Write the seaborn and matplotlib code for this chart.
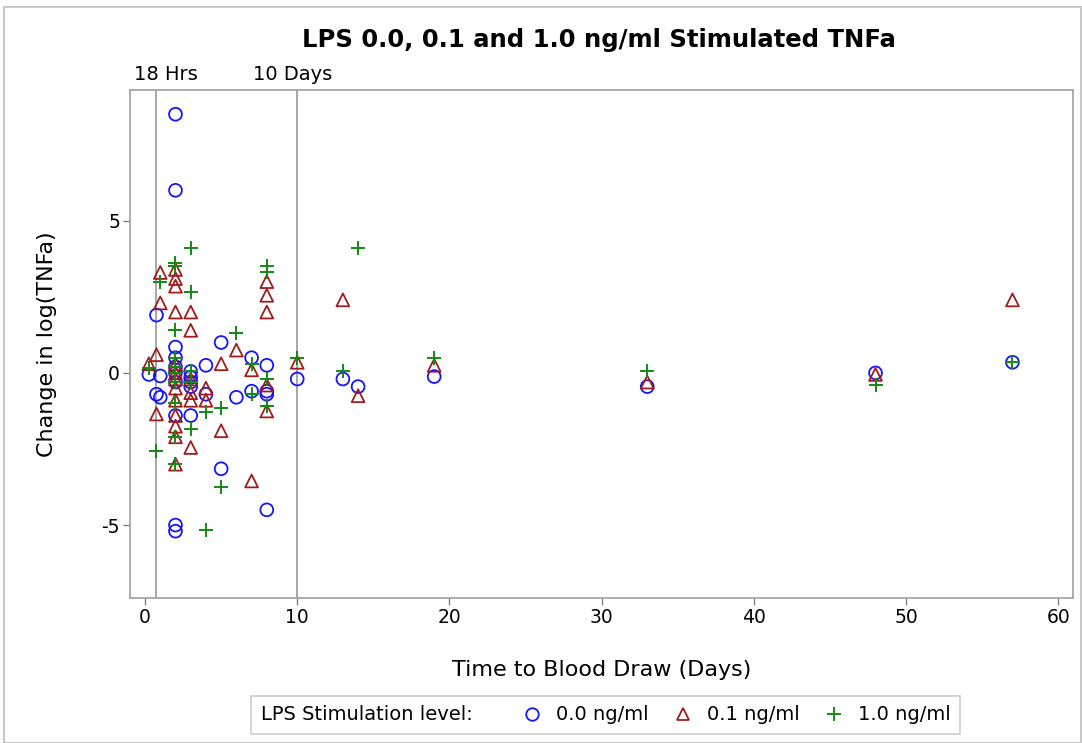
import numpy as np
import pandas as pd
import matplotlib
matplotlib.use('Agg')
import matplotlib.pyplot as plt
import seaborn as sns
from matplotlib.lines import Line2D
from matplotlib.patches import Rectangle

# 0.0 ng/ml LPS
days_00 = [0.25, 0.75, 0.75, 1, 1, 2, 2, 2, 2, 2, 2, 2, 2, 2, 2,
           3, 3, 3, 3, 3, 4, 4, 5, 5, 6, 7, 7, 8, 8, 8, 8,
           10, 13, 14, 19, 33, 48, 57]
change_00 = [-0.05, 1.9, -0.7, -0.1, -0.8, 8.5, 6.0, 0.85, 0.5, 0.2, 0.0, -0.3, -1.4, -5.0, -5.2,
             0.05, -0.15, -0.3, -0.45, -1.4, 0.25, -0.7, 1.0, -3.15, -0.8, 0.5, -0.6, 0.25, -0.6, -0.7, -4.5,
             -0.2, -0.2, -0.45, -0.12, -0.45, 0.0, 0.35]

# 0.1 ng/ml LPS
days_01 = [0.25, 0.75, 0.75, 1, 1, 2, 2, 2, 2, 2, 2, 2, 2, 2, 2, 2, 2, 2,
           3, 3, 3, 3, 3, 3, 4, 4, 5, 5, 6, 7, 7, 8, 8, 8, 8, 8,
           10, 13, 14, 19, 33, 48, 57]
change_01 = [0.3, 0.6, -1.35, 3.3, 2.3, 3.4, 3.1, 2.85, 2.0, 0.3, 0.0, -0.2, -0.5, -0.9, -1.4, -1.75, -2.1, -3.0,
             2.0, 1.4, -0.2, -0.65, -0.9, -2.45, -0.5, -0.9, 0.3, -1.9, 0.75, 0.1, -3.55, 3.0, 2.55, 2.0, -0.4, -1.25,
             0.35, 2.4, -0.75, 0.25, -0.3, -0.05, 2.4]

# 1.0 ng/ml LPS
days_10 = [0.25, 0.75, 1, 2, 2, 2, 2, 2, 2, 2, 2, 2, 2,
           3, 3, 3, 3, 3, 4, 4, 5, 5, 6, 7, 7, 8, 8, 8, 8,
           10, 13, 14, 19, 33, 48, 57]
change_10 = [0.15, -2.55, 3.0, 3.6, 3.5, 1.4, 0.5, 0.2, 0.0, -0.3, -1.0, -2.1, -3.0,
             4.1, 2.65, 0.05, -0.3, -1.85, -1.3, -5.15, -1.15, -3.75, 1.3, 0.3, -0.7, 3.5, 3.3, -0.2, -1.1,
             0.5, 0.05, 4.1, 0.5, 0.05, -0.4, 0.35]

levels = ['0.0 ng/ml', '0.1 ng/ml', '1.0 ng/ml']
markers = ['o', '^', '+']
colors = ['#1414ff', '#a01c1c', '#138a13']

ref_days = [0.75, 10]
ref_labels = ['18 Hrs', '10 Days']
ref_label_x = [1.4, 9.7]

df = pd.concat([
    pd.DataFrame({'days': days_00, 'change': change_00, 'level': levels[0]}),
    pd.DataFrame({'days': days_01, 'change': change_01, 'level': levels[1]}),
    pd.DataFrame({'days': days_10, 'change': change_10, 'level': levels[2]}),
])

sns.set_style('white')
plt.rcParams['font.family'] = ['DejaVu Sans']
plt.rcParams['axes.unicode_minus'] = False
plt.rcParams['text.color'] = 'black'
plt.rcParams['axes.labelcolor'] = 'black'

fig = plt.figure(figsize=(10.82, 7.43), dpi=100)
ax = fig.add_axes([0.120, 0.195, 0.872, 0.684])

# reference lines
for d in ref_days:
    ax.axvline(d, color='#a0a0a0', lw=1.3, zorder=1)

for lev, mk, col in zip(levels, markers, colors):
    sub = df[df['level'] == lev]
    if mk == '+':
        sns.scatterplot(data=sub, x='days', y='change', marker=mk, s=110,
                        color=col, linewidth=1.4, ax=ax, zorder=3)
    else:
        sns.scatterplot(data=sub, x='days', y='change', marker=mk, s=85,
                        facecolor='none', edgecolor=col, linewidth=1.3, ax=ax, zorder=3)

ax.set_xlim(-1, 61)
ax.set_ylim(-7.4, 9.3)
ax.set_xticks(np.arange(0, 61, 10))
ax.set_yticks([-5, 0, 5])
ax.tick_params(direction='out', length=5, width=1, color='#808080',
               labelcolor='black', labelsize=13.5, pad=2, bottom=True, left=True)
for sp in ax.spines.values():
    sp.set_color('#a0a0a0')
    sp.set_linewidth(1.2)

ax.set_xlabel('Time to Blood Draw (Days)', fontsize=16, labelpad=24)
ax.set_ylabel('Change in log(TNFa)', fontsize=16, labelpad=32)

for x, lab in zip(ref_label_x, ref_labels):
    ax.text(x, 1.012, lab, transform=ax.get_xaxis_transform(), ha='center',
            va='bottom', fontsize=14)

fig.text(0.554, 0.946, 'LPS 0.0, 0.1 and 1.0 ng/ml Stimulated TNFa',
         ha='center', va='center', fontsize=17.5, fontweight='bold')

# legend
handles = [Line2D([], [], linestyle='none', marker='')]
labels = ['LPS Stimulation level:    ']
for lev, mk, col in zip(levels, markers, colors):
    if mk == '+':
        handles.append(Line2D([], [], linestyle='none', marker=mk, markersize=10,
                              color=col, markeredgewidth=1.4))
    else:
        handles.append(Line2D([], [], linestyle='none', marker=mk, markersize=9,
                              markerfacecolor='none', markeredgecolor=col,
                              markeredgewidth=1.3))
    labels.append(lev)
leg = fig.legend(handles, labels, loc='center', bbox_to_anchor=(0.5596, 0.0377),
                 ncol=4, frameon=True, fancybox=False, edgecolor='#c0c0c0',
                 fontsize=14, handlelength=0.8, handletextpad=0.8,
                 columnspacing=1.4, borderpad=0.5)
leg.get_frame().set_linewidth(1.2)
# no empty handle space in front of the legend caption
row0 = leg._legend_handle_box.get_children()[0].get_children()[0]
row0.get_children()[0].width = 0
row0.sep = 0

# outer border
fig.patches.append(Rectangle((0.004, 0.0), 0.995, 0.99, transform=fig.transFigure,
                             fill=False, edgecolor='#c8c8c8', lw=1.5))

fig.savefig('out.png', dpi=100)
